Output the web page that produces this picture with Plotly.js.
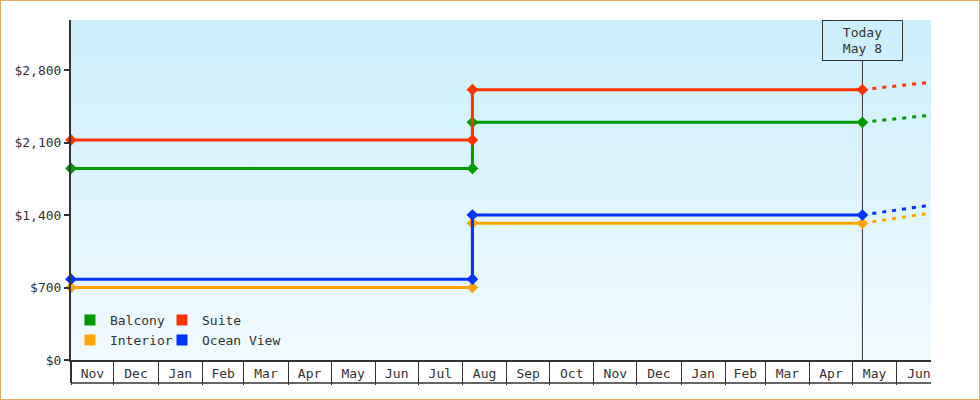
<!DOCTYPE html>
<html>
<head>
<meta charset="utf-8">
<script src="https://cdn.plot.ly/plotly-3.0.1.min.js"></script>
<style>
  html, body { margin: 0; padding: 0; background: #fff; }
  #wrap { width: 980px; height: 400px; box-sizing: border-box; border: 1px solid #eaa962; }
  #chart { width: 978px; height: 398px; }
</style>
</head>
<body>
<div id="wrap"><div id="chart"></div></div>
<script>
// ---- data ----
const seriesNames = ['Balcony', 'Suite', 'Interior', 'Ocean View'];
const stepDates = ['2023-11-01', '2024-08-08', '2024-08-08', '2025-05-08'];
const balcony = [1850, 1850, 2295, 2295];
const suite = [2125, 2125, 2610, 2610];
const interior = [700, 700, 1320, 1320];
const oceanView = [780, 780, 1400, 1400];
const projDates = ['2025-05-08', '2025-06-22'];
const balconyProj = [2295, 2360];
const suiteProj = [2610, 2678];
const interiorProj = [1320, 1413];
const oceanViewProj = [1400, 1490];
const todayDate = '2025-05-08';
const todayLabel = 'Today<br>May 8';
const xRange = ['2023-11-01', '2025-06-25'];
const yTicks = [0, 700, 1400, 2100, 2800];
const yTickLabels = ['$0', '$700', '$1,400', '$2,100', '$2,800'];

// ---- styles ----
const colors = ['#009900', '#ff3300', '#ffa500', '#0033ff'];
const FONT = 'DejaVu Sans Mono';
const ink = '#333333';
const stepSeries = [balcony, suite, interior, oceanView];
const projSeries = [balconyProj, suiteProj, interiorProj, oceanViewProj];
const legendIds = ['legend', 'legend2', 'legend3', 'legend4'];
const legendPos = [[-0.0012, 0.1176], [0.1058, 0.1176], [-0.0012, 0.0588], [0.1058, 0.0588]];

const traces = [];
stepSeries.forEach((ys, i) => {
  traces.push({
    type: 'scatter', mode: 'lines+markers', x: stepDates, y: ys,
    line: { color: colors[i], width: 3 },
    marker: { symbol: 'diamond', size: 9, color: colors[i] },
    showlegend: false, hoverinfo: 'skip', cliponaxis: false
  });
});
projSeries.forEach((ys, i) => {
  traces.push({
    type: 'scatter', mode: 'lines', x: projDates, y: ys,
    line: { color: colors[i], width: 3, dash: '4px,6px' },
    showlegend: false, hoverinfo: 'skip'
  });
});
// legend entries (square colour patches)
seriesNames.forEach((name, i) => {
  traces.push({
    type: 'scatter', mode: 'markers', x: [null], y: [null], name: name,
    marker: { symbol: 'square', size: 11, color: colors[i] },
    legend: legendIds[i], showlegend: true, hoverinfo: 'skip'
  });
});

const svg = "<svg xmlns='http://www.w3.org/2000/svg' width='10' height='100' preserveAspectRatio='none'>" +
  "<defs><linearGradient id='g' x1='0' y1='0' x2='0' y2='1'>" +
  "<stop offset='0' stop-color='#cbeffc'/><stop offset='1' stop-color='#f1faff'/></linearGradient></defs>" +
  "<rect width='10' height='100' fill='url(#g)'/></svg>";

const plotH = 340;
const boxDepth = 23 / plotH;

const layout = {
  width: 978, height: 398,
  margin: { l: 70, r: 48, t: 19, b: 39 },
  paper_bgcolor: '#ffffff',
  plot_bgcolor: 'rgba(0,0,0,0)',
  font: { family: FONT, size: 13, color: ink },
  images: [{
    source: 'data:image/svg+xml;charset=utf-8,' + encodeURIComponent(svg),
    xref: 'paper', yref: 'paper', x: 0, y: 1, sizex: 1, sizey: 1,
    xanchor: 'left', yanchor: 'top', sizing: 'stretch', layer: 'below'
  }],
  xaxis: {
    type: 'date', range: xRange, dtick: 'M1', tick0: '2023-11-01',
    ticklabelmode: 'period', tickformat: '%b',
    ticks: 'outside', ticklen: 23, tickwidth: 1, tickcolor: ink,
    ticklabelstandoff: -23,
    showline: true, linecolor: ink, linewidth: 2,
    showgrid: false, zeroline: false,
    tickfont: { family: FONT, size: 13, color: ink }, fixedrange: true
  },
  yaxis: {
    range: [0, 3283], tickmode: 'array', tickvals: yTicks, ticktext: yTickLabels,
    ticks: 'outside', ticklen: 5, tickwidth: 2, tickcolor: ink,
    showline: true, linecolor: ink, linewidth: 2,
    showgrid: false, zeroline: false,
    tickfont: { family: FONT, size: 13, color: ink }, fixedrange: true
  },
  shapes: [
    { type: 'line', xref: 'paper', yref: 'paper', x0: 0, x1: 1, y0: -boxDepth, y1: -boxDepth,
      line: { color: ink, width: 1.5 } },
    { type: 'line', xref: 'paper', yref: 'paper', x0: 0, x1: 0, y0: 0, y1: -boxDepth,
      line: { color: ink, width: 2 } },
    { type: 'line', xref: 'x', yref: 'paper', x0: todayDate, x1: todayDate, y0: 0, y1: (359 - 60) / plotH,
      line: { color: ink, width: 1 }, layer: 'below' }
  ],
  annotations: [{
    xref: 'x', yref: 'paper', x: todayDate, y: 1, yanchor: 'top', xanchor: 'center',
    text: todayLabel, showarrow: false, align: 'center',
    width: 75, height: 35, borderpad: 2, borderwidth: 1, bordercolor: ink,
    bgcolor: 'rgba(0,0,0,0)',
    font: { family: FONT, size: 13, color: ink }
  }],
  hovermode: false
};
legendIds.forEach((id, i) => {
  layout[id] = {
    x: legendPos[i][0], y: legendPos[i][1],
    orientation: 'h', xanchor: 'left', yanchor: 'middle',
    bgcolor: 'rgba(0,0,0,0)', borderwidth: 0,
    font: { family: FONT, size: 13, color: ink }
  };
});

Plotly.newPlot('chart', traces, layout, { displayModeBar: false, staticPlot: true });
</script>
</body>
</html>
